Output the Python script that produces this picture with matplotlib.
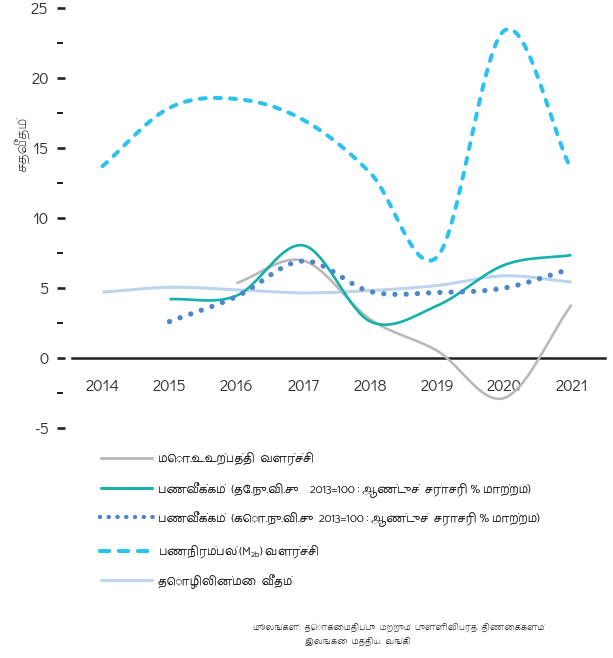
import numpy as np
import matplotlib
matplotlib.use("Agg")
import matplotlib.pyplot as plt
from matplotlib import font_manager
from matplotlib.lines import Line2D
from matplotlib.ticker import MultipleLocator

# ---------------- data ----------------
years = [2014, 2015, 2016, 2017, 2018, 2019, 2020, 2021]
year_labels = ["2014", "2015", "2016", "2017", "2018", "2019", "2020", "2021"]

gdp_years = [2016, 2017, 2018, 2019, 2020, 2021]
gdp_growth = [5.35, 6.95, 2.75, 0.5, -2.85, 3.8]

ncpi_years = [2015, 2016, 2017, 2018, 2019, 2020, 2021]
ncpi_inflation = [4.2, 4.45, 8.04, 2.6, 3.75, 6.65, 7.35]

ccpi_years = [2015, 2016, 2017, 2018, 2019, 2020, 2021]
ccpi_inflation = [2.6, 4.39, 6.93, 4.74, 4.68, 5.0, 6.4]

m2b_years = [2014, 2015, 2016, 2017, 2018, 2019, 2020, 2021]
m2b_growth = [13.7, 17.87, 18.5, 17.0, 13.2, 7.25, 23.4, 13.4]

unemp_years = [2014, 2015, 2016, 2017, 2018, 2019, 2020, 2021]
unemp_rate = [4.7, 5.05, 4.87, 4.65, 4.82, 5.18, 5.87, 5.42]

y_ticks = [-5, 0, 5, 10, 15, 20, 25]
y_tick_labels = ["-5", "0", "5", "10", "15", "20", "25"]

lbl_gdp = "மொ.உ.உற்பத்தி  வளர்ச்சி"
lbl_ncpi = "பணவீக்கம்  (தே.நு.வி.சு    2013=100 : ஆண்டுச்  சராசரி % மாற்றம்)"
lbl_ccpi = "பணவீக்கம்  (கொ.நு.வி.சு  2013=100 : ஆண்டுச்  சராசரி % மாற்றம்)"
lbl_m2b = r"பணநிரம்பல் ($\mathregular{M_{2b}}$) வளர்ச்சி"
lbl_unemp = "தொழிலின்மை  வீதம்"
y_label = "சதவீதம்"
source_1 = "மூலங்கள்:  தொகைமதிப்பு  மற்றும்  புள்ளிவிபரத்  திணைக்களம்"
source_2 = "இலங்கை  மத்திய  வங்கி"

# ---------------- fonts ----------------
installed = {fe.name for fe in font_manager.fontManager.ttflist}
tamil_font = None
for p in ["Catamaran", "Hind Madurai", "Noto Sans Tamil", "Mukta Malar", "Lohit Tamil"]:
    if p in installed:
        tamil_font = p
        break
num_font = None
for p in ["Didact Gothic", "Questrial", "Liberation Sans"]:
    if p in installed:
        num_font = p
        break

tamil_family = ([tamil_font] if tamil_font else []) + ["Liberation Sans", "DejaVu Sans"]
num_family = ([num_font] if num_font else []) + ["DejaVu Sans"]
plt.rcParams["font.family"] = num_family


def smooth(xs, ys, n=40):
    xs = np.asarray(xs, float)
    ys = np.asarray(ys, float)
    m = np.empty_like(ys)
    m[1:-1] = (ys[2:] - ys[:-2]) / (xs[2:] - xs[:-2])
    m[0] = (ys[1] - ys[0]) / (xs[1] - xs[0])
    m[-1] = (ys[-1] - ys[-2]) / (xs[-1] - xs[-2])
    ox, oy = [], []
    for i in range(len(xs) - 1):
        h = xs[i + 1] - xs[i]
        t = np.linspace(0, 1, n, endpoint=(i == len(xs) - 2))
        h00 = 2 * t**3 - 3 * t**2 + 1
        h10 = t**3 - 2 * t**2 + t
        h01 = -2 * t**3 + 3 * t**2
        h11 = t**3 - t**2
        ox.append(xs[i] + h * t)
        oy.append(h00 * ys[i] + h10 * h * m[i] + h01 * ys[i + 1] + h11 * h * m[i + 1])
    return np.concatenate(ox), np.concatenate(oy)


W, H = 613, 658
fig = plt.figure(figsize=(W / 100, H / 100), dpi=100)
fig.patch.set_facecolor("white")
renderer = fig.canvas.get_renderer()


def text_width(s, size, family):
    t = fig.text(0, 0, s, family=family, fontsize=size)
    w = t.get_window_extent(renderer).width
    t.remove()
    return w


def fit_size(strings, targets, family, base=10.0, lo=6.0, hi=14.0):
    ws = np.array([text_width(s, base, family) for s in strings])
    tg = np.array(targets, float)
    size = base * float((tg * ws).sum() / (ws * ws).sum())
    return min(max(size, lo), hi)


x0_px, unit_px = 102.5, 67.0
left_px, right_px, top_px, bot_px = 57, 605, 8, 428
ax = fig.add_axes([left_px / W, 1 - bot_px / H, (right_px - left_px) / W, (bot_px - top_px) / H])
ax.set_xlim(2014 - (x0_px - left_px) / unit_px, 2014 + (right_px - x0_px) / unit_px)
ax.set_ylim(-5, 25)

c_gdp = "#B9B9B9"
c_ncpi = "#13B1AC"
c_ccpi = "#4F86C8"
c_m2b = "#2BC2F1"
c_unemp = "#BCD4EE"

sx, sy = smooth(unemp_years, unemp_rate)
ax.plot(sx, sy, color=c_unemp, lw=2.2, solid_capstyle="butt", zorder=2)
sx, sy = smooth(gdp_years, gdp_growth)
ax.plot(sx, sy, color=c_gdp, lw=1.9, solid_capstyle="butt", zorder=3)
sx, sy = smooth(ncpi_years, ncpi_inflation)
ax.plot(sx, sy, color=c_ncpi, lw=1.9, solid_capstyle="butt", zorder=4)
sx, sy = smooth(ccpi_years, ccpi_inflation)
ax.plot(sx, sy, color=c_ccpi, lw=3.8, linestyle=(0, (0.01, 2.12)),
        dash_capstyle="round", zorder=5)
sx, sy = smooth(m2b_years, m2b_growth)
ax.plot(sx, sy, color=c_m2b, lw=2.9, linestyle=(0, (1.5, 2.25)),
        dash_capstyle="round", zorder=6)

for s in ["left", "right", "top"]:
    ax.spines[s].set_visible(False)
ax.spines["bottom"].set_position(("data", 0))
ax.spines["bottom"].set_bounds(2014 - (x0_px - 72) / unit_px, ax.get_xlim()[1])
ax.spines["bottom"].set_linewidth(1.8)
ax.spines["bottom"].set_color("#231F20")
ax.spines["bottom"].set_zorder(1)

num_size = fit_size(["2014"], [34], num_family)

ax.set_xticks(years)
ax.set_xticklabels(year_labels)
ax.tick_params(axis="x", length=0, pad=15.0, labelsize=num_size, labelcolor="#333333")

ax.set_yticks(y_ticks)
ax.set_yticklabels(y_tick_labels)
ax.yaxis.set_minor_locator(MultipleLocator(2.5))
ax.tick_params(axis="y", which="major", direction="in", length=5.8, width=1.9,
               color="#231F20", pad=6.0, labelsize=num_size, labelcolor="#333333")
ax.tick_params(axis="y", which="minor", direction="in", length=4.3, width=1.45,
               color="#231F20")

# y label
ys_size = fit_size([y_label], [55], tamil_family)
fig.text(22 / W, 1 - 144 / H, y_label, rotation=90, ha="center", va="center",
         fontsize=ys_size, family=tamil_family, color="#333333")

# legend: one single-entry legend per row
labels = [lbl_gdp, lbl_ncpi, lbl_ccpi, lbl_m2b, lbl_unemp]
leg_targets = [149, 382, 382, 162, 117]
leg_size = fit_size(labels, leg_targets, tamil_family)
handles = [
    Line2D([], [], color=c_gdp, lw=1.9, solid_capstyle="butt"),
    Line2D([], [], color=c_ncpi, lw=1.9, solid_capstyle="butt"),
    Line2D([], [], color=c_ccpi, lw=3.0, linestyle=(0, (0.01, 2.09)), dash_capstyle="round"),
    Line2D([], [], color=c_m2b, lw=2.9, linestyle=(0, (2.24, 2.5)), dash_capstyle="round"),
    Line2D([], [], color=c_unemp, lw=2.2, solid_capstyle="butt"),
]
row_y = [459, 489, 518, 552, 581]
for hnd, lab, yc in zip(handles, labels, row_y):
    lg = fig.legend([hnd], [lab], loc="center left",
                    bbox_to_anchor=(100 / W, 1 - yc / H),
                    frameon=False, handlelength=38.2 / leg_size,
                    handletextpad=3.6 / leg_size,
                    borderpad=0, borderaxespad=0,
                    prop={"family": tamil_family, "size": leg_size})
    for t in lg.get_texts():
        t.set_color("#231F20")
    fig.add_artist(lg)

src_size = fit_size([source_1, source_2], [299, 80], tamil_family)
fig.text(253 / W, 1 - 627 / H, source_1, ha="left", va="center", fontsize=src_size,
         family=tamil_family, color="#231F20")
fig.text(305 / W, 1 - 641 / H, source_2, ha="left", va="center", fontsize=src_size,
         family=tamil_family, color="#231F20")

fig.savefig("out.png", dpi=100, facecolor="white")
